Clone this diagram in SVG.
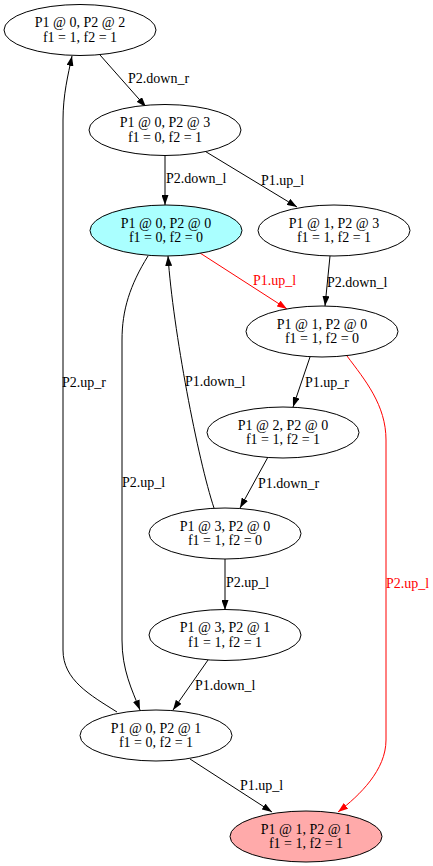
<svg xmlns="http://www.w3.org/2000/svg" width="433" height="866" viewBox="0 0 433 866">
<style>
.n ellipse{fill:#ffffff;stroke:#000000;stroke-width:1}
text{font-family:"Liberation Serif","Times New Roman",serif;font-size:14px}
.n text{text-anchor:middle}
.e path{fill:none;stroke:#000000;stroke-width:1}
.e path.r{stroke:#ff0000}
.e text{fill:#000000}
.e text.r{fill:#ff0000}
</style>
<defs>
<marker id="ah" viewBox="0 0 10 7" refX="10" refY="3.5" markerWidth="10" markerHeight="7" markerUnits="userSpaceOnUse" orient="auto"><path d="M0,0 L10,3.5 L0,7 z" fill="#000000"/></marker>
<marker id="ahr" viewBox="0 0 10 7" refX="10" refY="3.5" markerWidth="10" markerHeight="7" markerUnits="userSpaceOnUse" orient="auto"><path d="M0,0 L10,3.5 L0,7 z" fill="#ff0000"/></marker>
</defs>
<rect width="433" height="866" fill="#ffffff"/>
<g id="edges" class="e">
<path d="M100,55 L146,107" marker-end="url(#ah)"/><text x="128" y="83">P2.down_r</text>
<path d="M165,155 L165,205" marker-end="url(#ah)"/><text x="166" y="183">P2.down_l</text>
<path d="M203,150 L297,207" marker-end="url(#ah)"/><text x="261" y="185">P1.up_l</text>
<path d="M330,256 L325,306" marker-end="url(#ah)"/><text x="327" y="287">P2.down_l</text>
<path class="r" d="M200,253 L287,309" marker-end="url(#ahr)"/><text class="r" x="253" y="285">P1.up_l</text>
<path d="M310,357 L293,407" marker-end="url(#ah)"/><text x="305" y="387">P1.up_r</text>
<path d="M268,457 L240,508" marker-end="url(#ah)"/><text x="258" y="488">P1.down_r</text>
<path d="M214,508 C198,460 173,330 168,256" marker-end="url(#ah)"/><text x="185" y="386">P1.down_l</text>
<path d="M225,559 L225,610" marker-end="url(#ah)"/><text x="226" y="587">P2.up_l</text>
<path d="M208,660 L173,710" marker-end="url(#ah)"/><text x="195" y="690">P1.down_l</text>
<path d="M148,256 C130,285 122,310 122,340 L122,640 C122,670 132,690 140,710" marker-end="url(#ah)"/><text x="122" y="487">P2.up_l</text>
<path d="M117,712 C90,695 63,680 63,650 L63,120 C63,95 68,75 72,56" marker-end="url(#ah)"/><text x="62" y="387">P2.up_r</text>
<path d="M190,759 L272,812" marker-end="url(#ah)"/><text x="240" y="790">P1.up_l</text>
<path class="r" d="M347,356 C365,380 386,405 386,440 L386,740 C386,770 360,795 338,812" marker-end="url(#ahr)"/><text class="r" x="386" y="588">P2.up_l</text>
</g>
<g id="n02" class="n"><ellipse cx="80" cy="30" rx="76" ry="25.5"/><text x="80" y="27">P1 @ 0, P2 @ 2</text><text x="80" y="41.5">f1 = 1, f2 = 1</text></g>
<g id="n03" class="n"><ellipse cx="165" cy="130" rx="76" ry="25.5"/><text x="165" y="127">P1 @ 0, P2 @ 3</text><text x="165" y="141.5">f1 = 0, f2 = 1</text></g>
<g id="n00" class="n"><ellipse cx="166" cy="230.5" rx="76" ry="25.5" style="fill:#aaffff"/><text x="166" y="227.5">P1 @ 0, P2 @ 0</text><text x="166" y="242">f1 = 0, f2 = 0</text></g>
<g id="n13" class="n"><ellipse cx="334" cy="230.5" rx="76" ry="25.5"/><text x="334" y="227.5">P1 @ 1, P2 @ 3</text><text x="334" y="242">f1 = 1, f2 = 1</text></g>
<g id="n10" class="n"><ellipse cx="322" cy="331.5" rx="76" ry="25.5"/><text x="322" y="328.5">P1 @ 1, P2 @ 0</text><text x="322" y="343">f1 = 1, f2 = 0</text></g>
<g id="n20" class="n"><ellipse cx="283" cy="432.5" rx="76" ry="25.5"/><text x="283" y="429.5">P1 @ 2, P2 @ 0</text><text x="283" y="444">f1 = 1, f2 = 1</text></g>
<g id="n30" class="n"><ellipse cx="225" cy="533.5" rx="76" ry="25.5"/><text x="225" y="530.5">P1 @ 3, P2 @ 0</text><text x="225" y="545">f1 = 1, f2 = 0</text></g>
<g id="n31" class="n"><ellipse cx="225" cy="635" rx="76" ry="25.5"/><text x="225" y="632">P1 @ 3, P2 @ 1</text><text x="225" y="646.5">f1 = 1, f2 = 1</text></g>
<g id="n01" class="n"><ellipse cx="156" cy="735.5" rx="76" ry="25.5"/><text x="156" y="732.5">P1 @ 0, P2 @ 1</text><text x="156" y="747">f1 = 0, f2 = 1</text></g>
<g id="n11" class="n"><ellipse cx="306" cy="836.5" rx="76" ry="25.5" style="fill:#ffaaaa"/><text x="306" y="833.5">P1 @ 1, P2 @ 1</text><text x="306" y="848">f1 = 1, f2 = 1</text></g>
</svg>
